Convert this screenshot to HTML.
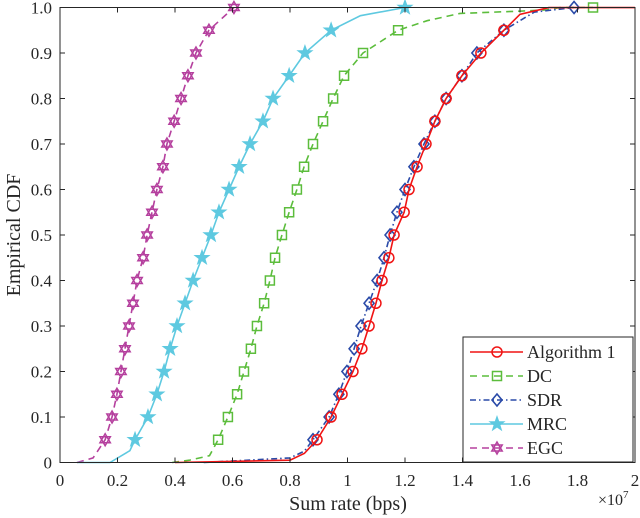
<!DOCTYPE html>
<html><head><meta charset="utf-8">
<style>
html,body{margin:0;padding:0;background:#fff;}
svg{display:block;}
svg text{font-family:"Liberation Serif","DejaVu Serif",serif;}
</style></head>
<body>
<svg id="chart" width="640" height="518" viewBox="0 0 640 518" xmlns="http://www.w3.org/2000/svg">
<g id="grid"></g>
<g id="series"></g>
<g id="axes"></g>
<g id="legend"></g>
</svg>
<script>
// data (x in units of 1e7 bps)
const xTicks = [0,0.2,0.4,0.6,0.8,1,1.2,1.4,1.6,1.8,2];
const xTickLabels = ["0","0.2","0.4","0.6","0.8","1","1.2","1.4","1.6","1.8","2"];
const yTicks = [0,0.1,0.2,0.3,0.4,0.5,0.6,0.7,0.8,0.9,1];
const yTickLabels = ["0","0.1","0.2","0.3","0.4","0.5","0.6","0.7","0.8","0.9","1.0"];

const algX = [0.40,0.80,0.85,0.894,0.943,0.981,1.019,1.050,1.075,1.099,1.120,1.144,1.162,1.197,1.214,1.242,1.273,1.304,1.343,1.398,1.464,1.544,1.60,1.70,2.0];
const algY = [0,0.005,0.02,0.05,0.10,0.15,0.20,0.25,0.30,0.35,0.40,0.45,0.50,0.55,0.60,0.65,0.70,0.75,0.80,0.85,0.90,0.95,0.985,0.9999,0.9999];

const dcX = [0.39,0.45,0.52,0.550,0.584,0.616,0.640,0.664,0.685,0.710,0.730,0.748,0.772,0.797,0.824,0.849,0.880,0.915,0.950,0.988,1.054,1.176,1.277,1.391,1.600,1.694,1.739,1.854];
const dcY = [0,0.005,0.015,0.05,0.10,0.15,0.20,0.25,0.30,0.35,0.40,0.45,0.50,0.55,0.60,0.65,0.70,0.75,0.80,0.85,0.90,0.95,0.971,0.987,0.992,0.995,0.9999,1.0];

const sdrX = [0.50,0.80,0.85,0.880,0.936,0.970,0.998,1.023,1.047,1.075,1.103,1.127,1.148,1.172,1.200,1.231,1.266,1.304,1.343,1.398,1.450,1.544,1.65,1.788];
const sdrY = [0,0.01,0.025,0.05,0.10,0.15,0.20,0.25,0.30,0.35,0.40,0.45,0.50,0.55,0.60,0.65,0.70,0.75,0.80,0.85,0.90,0.95,0.99,1.0];

const mrcX = [0.06,0.174,0.243,0.261,0.306,0.337,0.362,0.383,0.407,0.435,0.463,0.494,0.525,0.553,0.588,0.623,0.661,0.706,0.741,0.797,0.852,0.943,1.045,1.2];
const mrcY = [0,0,0.026,0.05,0.10,0.15,0.20,0.25,0.30,0.35,0.40,0.45,0.50,0.55,0.60,0.65,0.70,0.75,0.80,0.85,0.90,0.95,0.982,1.0];

const egcX = [0.059,0.115,0.157,0.181,0.198,0.212,0.226,0.240,0.254,0.268,0.289,0.303,0.320,0.337,0.358,0.372,0.397,0.421,0.445,0.473,0.518,0.605];
const egcY = [0,0.01,0.05,0.10,0.15,0.20,0.25,0.30,0.35,0.40,0.45,0.50,0.55,0.60,0.65,0.70,0.75,0.80,0.85,0.90,0.95,1.0];

const seriesNames = ["Algorithm 1","DC","SDR","MRC","EGC"];

const L=60,R=635,T=7.5,B=462.5;
const sx=v=>L+(v-0)/(2-0)*(R-L);
const sy=v=>B-(v-0)/(1-0)*(B-T);
const NS="http://www.w3.org/2000/svg";
const FF='"Liberation Serif","DejaVu Serif",serif';
function mk(tag,attrs,parent){const e=document.createElementNS(NS,tag);for(const k in attrs)e.setAttribute(k,attrs[k]);parent.appendChild(e);return e;}

const axes=document.getElementById('axes');
const seriesG=document.getElementById('series');
const legend=document.getElementById('legend');

const frame=mk('rect',{x:L,y:T,width:R-L,height:B-T,fill:'none',stroke:'#262626','stroke-width':1},axes);



xTicks.forEach((t,i)=>{
  const x=sx(t);
  const tk=mk('path',{d:`M${x} ${B}v-5M${x} ${T}v5`,stroke:'#262626','stroke-width':1},axes);
  
  
  const lb=mk('text',{x:x,y:486,'text-anchor':'middle','font-size':17,fill:'#262626','font-family':FF},axes);
  lb.textContent=xTickLabels[i];
  
  
});
yTicks.forEach((t,i)=>{
  const y=sy(t);
  const tk=mk('path',{d:`M${L} ${y}h5M${R} ${y}h-5`,stroke:'#262626','stroke-width':1},axes);
  
  
  const lb=mk('text',{x:52,y:y+6,'text-anchor':'end','font-size':17,fill:'#262626','font-family':FF},axes);
  lb.textContent=yTickLabels[i];
  
  
});
const xt=mk('text',{x:348,y:510,'text-anchor':'middle','font-size':20,fill:'#262626','font-family':FF},axes);
xt.textContent='Sum rate (bps)';


const yt=mk('text',{x:0,y:0,'text-anchor':'middle','font-size':20,fill:'#262626','font-family':FF,transform:'translate(20,235) rotate(-90)'},axes);
yt.textContent='Empirical CDF';


const ex=mk('text',{x:598,y:505,'font-size':16,fill:'#262626','font-family':FF},axes);
ex.innerHTML='×10<tspan dy="-7" font-size="11">7</tspan>';



function marker(type,x,y,color,parent){
  let e;
  if(type==='circle') e=mk('circle',{cx:x,cy:y,r:5,fill:'none',stroke:color,'stroke-width':1.5},parent);
  else if(type==='square') e=mk('rect',{x:x-4.5,y:y-4.5,width:9,height:9,fill:'none',stroke:color,'stroke-width':1.5},parent);
  else if(type==='diamond') e=mk('path',{d:`M${x} ${y-6}L${x+5} ${y}L${x} ${y+6}L${x-5} ${y}Z`,fill:'none',stroke:color,'stroke-width':1.6},parent);
  else if(type==='star'){
    let d='';for(let k=0;k<10;k++){const r=k%2?3:7.5;const a=-Math.PI/2+k*Math.PI/5;d+=(k?'L':'M')+(x+r*Math.cos(a)).toFixed(2)+' '+(y+r*Math.sin(a)).toFixed(2);}
    e=mk('path',{d:d+'Z',fill:color,stroke:color,'stroke-width':1},parent);
  } else {
    const r=6;let d='';
    for(let s=0;s<2;s++){for(let k=0;k<3;k++){const a=(s?Math.PI/2:-Math.PI/2)+k*2*Math.PI/3;d+=(k?'L':'M')+(x+r*Math.cos(a)).toFixed(2)+' '+(y+r*Math.sin(a)).toFixed(2);}d+='Z';}
    e=mk('path',{d:d,fill:'none',stroke:color,'stroke-width':1.5},parent);
  }
  return e;
}

const defs=[
 {x:algX,y:algY,c:'#f01414',m:'circle',dash:'',n:'algorithm-1'},
 {x:dcX,y:dcY,c:'#5cbd3c',m:'square',dash:'7 5',n:'dc'},
 {x:sdrX,y:sdrY,c:'#2a4aa8',m:'diamond',dash:'6 3 1.5 3',n:'sdr'},
 {x:mrcX,y:mrcY,c:'#5ec9e0',m:'star',dash:'',n:'mrc'},
 {x:egcX,y:egcY,c:'#b5409e',m:'hex',dash:'7 5',n:'egc'}
];
[4,3,1,2,0].forEach(i=>{
  const s=defs[i];
  const g=mk('g',{},seriesG);
  
  
  const pts=s.x.map((v,j)=>sx(v).toFixed(2)+','+sy(s.y[j]).toFixed(2)).join(' ');
  const line=mk('polyline',{points:pts,fill:'none',stroke:s.c,'stroke-width':1.6,'stroke-dasharray':s.dash},g);
  
  
  s.x.forEach((v,j)=>{
    const yv=s.y[j];
    const q=Math.round(yv*20);
    if(yv>0&&Math.abs(yv*20-q)<1e-9){
      const mm=marker(s.m,sx(v),sy(yv),s.c,g);
      
      
    }
  });
});

const lbox=mk('rect',{x:463,y:337,width:170,height:125,fill:'#fff',stroke:'#262626','stroke-width':1},legend);


const ly=[352,376,400,424,448];
defs.forEach((s,i)=>{
  const g=mk('g',{},legend);
  
  
  mk('line',{x1:470,y1:ly[i],x2:523,y2:ly[i],stroke:s.c,'stroke-width':1.6,'stroke-dasharray':s.dash},g);
  marker(s.m,497,ly[i],s.c,g);
  const t=mk('text',{x:527,y:ly[i]+6,'font-size':18,fill:'#262626','font-family':FF},g);
  t.textContent=seriesNames[i];
});
</script>
</body></html>
